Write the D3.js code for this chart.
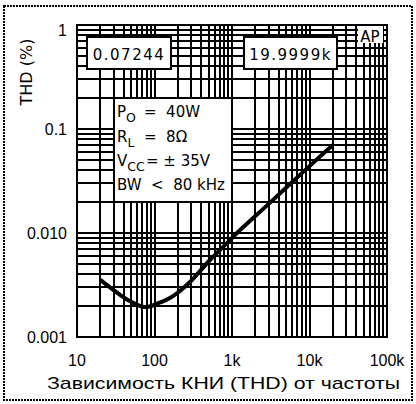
<!DOCTYPE html>
<html><head><meta charset="utf-8">
<script src="https://cdn.jsdelivr.net/npm/d3@7"></script>
<style>body{margin:0;background:#fff}svg{display:block}</style>
</head><body><svg id="c" width="416" height="404"></svg>
<script>
// ---- data ----
const freq = [20, 36, 50, 75, 110, 158, 213, 287, 520, 860, 1160, 3100, 9300, 20000];
const thd  = [0.00354, 0.00254, 0.00218, 0.00194, 0.0021, 0.00237, 0.00277, 0.00338, 0.0055, 0.0080, 0.0100, 0.0196, 0.0418, 0.0702];
const xTicks = [10, 100, 1000, 10000, 100000];
const xTickLabels = ["10", "100", "1k", "10k", "100k"];
const yTicks = [0.001, 0.01, 0.1, 1];
const yTickLabels = ["0.001", "0.010", "0.1", "1"];
const readoutLeft = "0.07244";
const readoutRight = "19.9999k";
const xTitle = "Зависимость КНИ (THD) от частоты";
const yTitle = "THD (%)";

// ---- layout ----
const svg = d3.select("#c");
const L = 77, R = 387, T = 25, B = 337;
const x = d3.scaleLog().domain([10, 100000]).range([L, R]);
const y = d3.scaleLog().domain([0.001, 1]).range([B, T]);
const font = "'Liberation Sans', Arial, sans-serif";
const mono = "'DejaVu Sans', sans-serif";

// outer dotted frame
svg.append("rect").attr("x", 4).attr("y", 6).attr("width", 408).attr("height", 394)
  .attr("fill", "none").attr("stroke", "#000").attr("stroke-width", 2)
  .attr("stroke-dasharray", "2,1").attr("shape-rendering", "crispEdges");

// grid values
const xGrid = [], yGrid = [];
for (let d = 10; d < 100000; d *= 10) for (let m = 1; m <= 9; m++) xGrid.push(d * m);
xGrid.push(100000);
for (let d = 0.001; d < 0.9; d *= 10) for (let m = 1; m <= 9; m++) yGrid.push(d * m);
yGrid.push(1);

const g = svg.append("g").attr("shape-rendering", "crispEdges");
g.selectAll("line.v").data(xGrid).join("line")
  .attr("x1", d => Math.round(x(d))).attr("x2", d => Math.round(x(d)))
  .attr("y1", T).attr("y2", B).attr("stroke", "#000").attr("stroke-width", 2);
g.selectAll("line.h").data(yGrid).join("line")
  .attr("y1", d => Math.round(y(d))).attr("y2", d => Math.round(y(d)))
  .attr("x1", L).attr("x2", R).attr("stroke", "#000").attr("stroke-width", 2);

// white occluding panels
const legX = 115, legY = 99, legR = Math.round(x(1000)) - 1, legB = 201;
svg.append("rect").attr("x", legX).attr("y", legY).attr("width", legR - legX).attr("height", legB - legY).attr("fill", "#fff");
svg.append("rect").attr("x", 358).attr("y", 26).attr("width", 25).attr("height", 17).attr("fill", "#fff");

// readout boxes
function box(x0, x1, txt) {
  svg.append("rect").attr("x", x0).attr("y", 37).attr("width", x1 - x0).attr("height", 32)
    .attr("fill", "#fff").attr("stroke", "#000").attr("stroke-width", 2).attr("shape-rendering", "crispEdges");
  svg.append("text").attr("x", (x0 + x1) / 2).attr("y", 60).attr("text-anchor", "middle")
    .attr("font-family", mono).attr("font-size", 15).attr("letter-spacing", 1.5)
    .text(txt);
}
box(87, 171, readoutLeft);
box(244, 337, readoutRight);

svg.append("text").attr("x", 370).attr("y", 42).attr("text-anchor", "middle")
  .attr("font-family", mono).attr("font-size", 15).text("AP");

// legend text
function legLine(yy, main, sub, eqX, rest) {
  const t = svg.append("text").attr("x", 117).attr("y", yy).attr("font-family", mono).attr("font-size", 15);
  t.append("tspan").text(main);
  t.append("tspan").attr("dy", 5).attr("font-size", 12.5).text(sub);
  svg.append("text").attr("x", eqX).attr("y", yy).attr("font-family", mono).attr("font-size", 15)
    .attr("xml:space", "preserve").text(rest);
}
legLine(117, "P", "O", 144, "=  40W");
legLine(142, "R", "L", 144, "=  8\u03A9");
legLine(166, "V", "CC", 146, "= \u00B1 35V");
svg.append("text").attr("x", 117).attr("y", 190).attr("font-family", mono).attr("font-size", 15)
  .attr("xml:space", "preserve").text("BW  <  80 kHz");

// curve
const pts = freq.map((f, i) => [f, thd[i]]);
svg.append("path").datum(pts)
  .attr("d", d3.line().x(d => x(d[0])).y(d => y(d[1])).curve(d3.curveCatmullRom))
  .attr("fill", "none").attr("stroke", "#000").attr("stroke-width", 4).attr("stroke-linecap", "butt");

// plot border
svg.append("rect").attr("x", L).attr("y", T).attr("width", R - L).attr("height", B - T)
  .attr("fill", "none").attr("stroke", "#000").attr("stroke-width", 2).attr("shape-rendering", "crispEdges");

// axes labels
svg.selectAll("text.yt").data(yTicks).join("text")
  .attr("x", 67).attr("y", d => y(d)).attr("dy", d => d === 1 ? "0.7em" : "0.36em").attr("text-anchor", "end")
  .attr("font-family", font).attr("font-size", 16).text((d, i) => yTickLabels[i]);
svg.selectAll("text.xt").data(xTicks).join("text")
  .attr("x", d => x(d)).attr("y", 366).attr("text-anchor", "middle")
  .attr("font-family", font).attr("font-size", 16).text((d, i) => xTickLabels[i]);

svg.append("text").attr("x", 47).attr("y", 389)
  .attr("font-family", font).attr("font-size", 17)
  .attr("textLength", 353).attr("lengthAdjust", "spacingAndGlyphs").text(xTitle);
svg.append("text").attr("transform", "translate(32,72) rotate(-90)").attr("text-anchor", "middle")
  .attr("font-family", mono).attr("font-size", 16).text(yTitle);
</script></body></html>
